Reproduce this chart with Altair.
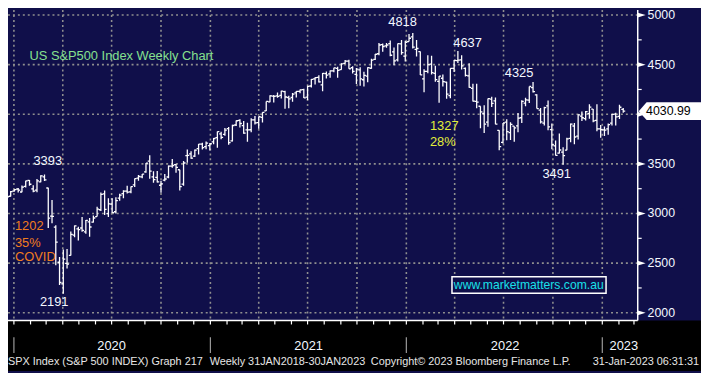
import altair as alt
import pandas as pd

# ---------------- data: S&P 500 weekly OHLC (week-ending Fridays) ----------------
week_end = pd.date_range("2019-12-06", periods=166, freq="7D").strftime("%Y-%m-%d").tolist()

open_ = [
    3143, 3141, 3174, 3227,
    3247, 3217, 3273, 3333, 3248, 3235, 3318, 3370, 3257, 2974, 2863, 2509, 2290,
    2498, 2578, 2782, 2845, 2854, 2815, 2915, 2913, 2969, 3038, 3199, 3000, 3094,
    3018, 3155, 3201, 3225, 3219, 3288, 3356, 3369, 3419, 3527, 3370, 3364, 3285,
    3337, 3368, 3477, 3493, 3441, 3296, 3583, 3600, 3579, 3654, 3699, 3675, 3684,
    3723, 3765, 3803, 3797, 3855, 3731, 3892, 3939, 3886, 3842, 3844, 3943, 3916,
    3969, 4034, 4124, 4183, 4185, 4191, 4228, 4169, 4169, 4216, 4230, 4248, 4173,
    4285, 4356, 4372, 4297, 4410, 4407, 4438, 4462, 4450, 4513, 4535, 4469, 4403,
    4448, 4348, 4385, 4464, 4553, 4610, 4701, 4690, 4712, 4628, 4548, 4710, 4587, 4733,
    4779, 4655, 4632, 4357, 4432, 4505, 4412, 4332, 4363, 4323, 4188, 4462, 4541,
    4548, 4463, 4386, 4261, 4130, 4081, 4008, 3920, 4153, 4135, 3838, 3716, 3920,
    3815, 3880, 3883, 3965, 4113, 4143, 4269, 4195, 4041, 3910, 4084, 3845, 3682,
    3609, 3619, 3638, 3758, 3882, 3779, 3982, 3956, 4006, 4052, 3939, 3853, 3843,
    3853, 3911, 4002, 3979, 4050,
]
high = [
    3150, 3183, 3226, 3248,
    3258, 3282, 3330, 3337, 3285, 3348, 3385, 3394, 3260, 3137, 2883, 2562, 2637,
    2642, 2819, 2880, 2867, 2965, 2934, 2955, 2981, 3068, 3212, 3233, 3155, 3155,
    3165, 3198, 3235, 3280, 3272, 3352, 3387, 3399, 3509, 3588, 3425, 3429, 3330,
    3397, 3483, 3550, 3502, 3441, 3529, 3646, 3628, 3645, 3700, 3712, 3726, 3711,
    3760, 3827, 3823, 3862, 3871, 3894, 3937, 3950, 3932, 3914, 3960, 3983, 3978,
    4021, 4130, 4191, 4195, 4219, 4238, 4238, 4188, 4214, 4234, 4249, 4258, 4287,
    4356, 4372, 4394, 4415, 4430, 4441, 4468, 4480, 4513, 4546, 4549, 4485, 4466,
    4475, 4429, 4475, 4559, 4608, 4718, 4714, 4718, 4744, 4672, 4713, 4748, 4741, 4808,
    4819, 4749, 4632, 4453, 4595, 4590, 4490, 4385, 4402, 4327, 4465, 4546, 4637,
    4594, 4471, 4513, 4308, 4307, 4081, 4091, 4158, 4177, 4168, 3838, 3913, 3950,
    3919, 3880, 4013, 4141, 4167, 4281, 4325, 4203, 4063, 4077, 4140, 3907, 3736,
    3806, 3668, 3763, 3906, 3912, 4001, 4028, 4034, 4101, 4052, 4101, 3891, 3878,
    3906, 4003, 4015, 4095, 4063,
]
low = [
    3070, 3123, 3172, 3223,
    3212, 3215, 3263, 3281, 3214, 3214, 3315, 3328, 2855, 2902, 2479, 2280, 2192,
    2447, 2578, 2761, 2727, 2816, 2797, 2766, 2910, 2969, 3025, 2984, 2965, 3004,
    2999, 3128, 3155, 3201, 3204, 3268, 3329, 3355, 3411, 3350, 3310, 3313, 3209,
    3324, 3355, 3462, 3410, 3233, 3279, 3512, 3552, 3570, 3594, 3645, 3648, 3636,
    3698, 3663, 3749, 3784, 3694, 3725, 3881, 3866, 3805, 3723, 3818, 3897, 3853,
    3916, 4034, 4120, 4118, 4167, 4160, 4056, 4062, 4127, 4168, 4213, 4164, 4144,
    4271, 4300, 4321, 4233, 4360, 4368, 4424, 4367, 4450, 4508, 4458, 4411, 4306,
    4288, 4279, 4323, 4460, 4546, 4596, 4630, 4670, 4585, 4495, 4531, 4600, 4531, 4733,
    4662, 4582, 4395, 4222, 4414, 4401, 4327, 4115, 4279, 4157, 4161, 4425, 4517,
    4451, 4381, 4268, 4128, 4062, 3859, 3811, 3875, 4074, 3900, 3637, 3705, 3739,
    3742, 3722, 3818, 3911, 4080, 4113, 4219, 4058, 3906, 3886, 3838, 3647, 3584,
    3604, 3492, 3638, 3718, 3698, 3745, 3932, 3938, 3956, 3919, 3828, 3764, 3781,
    3795, 3888, 3886, 3952, 4015,
]
close = [
    3146, 3169, 3221, 3240,
    3235, 3265, 3330, 3295, 3226, 3328, 3380, 3338, 2954, 2972, 2711, 2305, 2541,
    2489, 2790, 2875, 2837, 2831, 2930, 2864, 2955, 3044, 3194, 3041, 3098, 3009,
    3130, 3185, 3225, 3216, 3271, 3351, 3373, 3397, 3508, 3427, 3341, 3319, 3298,
    3348, 3477, 3484, 3465, 3270, 3509, 3585, 3558, 3638, 3699, 3663, 3709, 3703,
    3756, 3825, 3768, 3841, 3714, 3887, 3935, 3907, 3811, 3842, 3943, 3913, 3975,
    4020, 4129, 4185, 4180, 4181, 4233, 4174, 4156, 4204, 4230, 4247, 4166, 4281,
    4352, 4370, 4327, 4412, 4395, 4437, 4468, 4442, 4509, 4535, 4459, 4433, 4455,
    4357, 4391, 4471, 4545, 4605, 4698, 4683, 4698, 4595, 4538, 4712, 4621, 4726, 4766,
    4677, 4663, 4398, 4432, 4501, 4419, 4349, 4385, 4329, 4204, 4463, 4543, 4546,
    4488, 4393, 4272, 4132, 4123, 4024, 3901, 4158, 4109, 3901, 3675, 3912, 3825,
    3899, 3863, 3962, 4130, 4145, 4280, 4228, 4058, 3924, 4067, 3873, 3693, 3586,
    3640, 3583, 3753, 3901, 3771, 3993, 3965, 4026, 4072, 3934, 3852, 3845, 3840,
    3895, 3999, 3973, 4071, 4030.99,
]

# axis / grid positions
y_minor = [2250, 2750, 3250, 3750, 4250, 4750]
y_major = [2000, 2500, 3000, 3500, 4000, 4500, 5000]
y_label_values = [2000, 2500, 3000, 3500, 4500, 5000]   # 4000 is hidden behind the last-price tag
y_labels = ["2000", "2500", "3000", "3500", "4500", "5000"]
quarter_lines = ["2019-12-26", "2020-03-26", "2020-06-25", "2020-09-25", "2020-12-26",
                 "2021-03-26", "2021-06-25", "2021-09-25", "2021-12-26", "2022-03-26",
                 "2022-06-25", "2022-09-25", "2022-12-26"]
year_lines = ["2019-12-26", "2020-12-26", "2021-12-26", "2022-12-26"]
year_labels = ["2020", "2021", "2022", "2023"]
year_label_dates = ["2020-06-25", "2021-06-27", "2022-06-28", "2023-02-04"]
month_ticks = (pd.date_range("2020-01-01", "2023-03-01", freq="MS") - pd.Timedelta(days=6)).strftime("%Y-%m-%d").tolist()

# annotations
peak_text = ["3393", "2191", "4818", "4637", "4325", "3491"]
peak_date = ["2020-02-27", "2020-03-10", "2021-12-19", "2022-04-19", "2022-07-24", "2022-10-02"]
peak_value = [3525, 2109, 4932, 4717, 4414, 3398]

note_text = ["US S&P500 Index Weekly Chart", "1202", "35%", "COVID", "1327", "28%"]
note_date = ["2020-01-24", "2019-12-28", "2019-12-28", "2019-12-28", "2022-02-08", "2022-02-08"]
note_value = [4590, 2871, 2705, 2558, 3877, 3721]
note_color = ["#86e08f", "#f07d1e", "#f07d1e", "#f07d1e", "#e2ee3a", "#e2ee3a"]

footer_text = ["SPX Index (S&P 500 INDEX) Graph 217", "Weekly 31JAN2018-30JAN2023",
               "Copyright\u00a9 2023 Bloomberg Finance L.P.", "31-Jan-2023 06:31:31"]

# ---------------- styling ----------------
NAVY = "#100f4a"
WHITE = "#f4f8ff"
GRID = "#8f8f8f"
FONT = "Liberation Sans"
W, H = 637, 314
PAD_R, PAD_B = 64, 51

x_scale = alt.Scale(type="utc", nice=False,
                    domain=[alt.DateTime(year=2019, month=12, date=15, utc=True),
                            alt.DateTime(year=2023, month=3, date=2, utc=True)])
y_scale = alt.Scale(domain=[1922, 5050], nice=False, zero=False)

X = alt.X("date:T", scale=x_scale, axis=None)

def Yq(field):
    return alt.Y(field, type="quantitative", scale=y_scale, axis=None)

bars = pd.DataFrame({"date": week_end, "open": open_, "high": high, "low": low, "close": close})
one = pd.DataFrame({"a": [0]})

band = alt.Chart(one).mark_rect(color="black").encode(
    x=alt.value(0), x2=alt.value(W + PAD_R), y=alt.value(H), y2=alt.value(H + PAD_B))

h_grid = alt.Chart(pd.DataFrame({"v": y_major})).mark_rule(
    color=GRID, strokeDash=[2, 3], strokeWidth=1.6).encode(y=Yq("v"))
v_grid = alt.Chart(pd.DataFrame({"date": quarter_lines})).mark_rule(
    color=GRID, strokeDash=[2, 3], strokeWidth=1.6).encode(x=X)

site_box = alt.Chart(pd.DataFrame({"date": ["2022-03-21"], "date2": ["2023-01-02"],
                                   "v": [2363], "v2": [2197]})).mark_rect(
    fill=NAVY, stroke="white", strokeWidth=1.5).encode(
    x=X, x2="date2:T", y=Yq("v"), y2="v2:Q")
site_text = alt.Chart(pd.DataFrame({"date": ["2022-08-11"], "v": [2275],
                                    "t": ["www.marketmatters.com.au"]})).mark_text(
    font=FONT, fontSize=12.3, color="#19e0e8", align="center", baseline="middle").encode(
    x=X, y=Yq("v"), text="t:N")

base = alt.Chart(bars)
hl = base.mark_rule(color="white", strokeWidth=1.3, clip=True).encode(
    x=X, y=Yq("low"), y2="high:Q")
op = base.mark_rule(color="white", strokeWidth=1.3, xOffset=-2, x2Offset=0, clip=True).encode(
    x=X, x2="date:T", y=Yq("open"))
cl = base.mark_rule(color="white", strokeWidth=1.3, xOffset=0, x2Offset=2, clip=True).encode(
    x=X, x2="date:T", y=Yq("close"))

# bottom time axis
x_line = alt.Chart(one).mark_rule(color="white", strokeWidth=1.5).encode(
    x=alt.value(0), x2=alt.value(W), y=alt.value(H))
m_ticks = alt.Chart(pd.DataFrame({"date": month_ticks})).mark_rule(
    color="white", strokeWidth=1.2).encode(x=X, y=alt.value(H), y2=alt.value(H + 4))
separators = alt.Chart(pd.DataFrame({"date": year_lines})).mark_rule(
    color="#9a9a9a", strokeWidth=1.2).encode(x=X, y=alt.value(331), y2=alt.value(347))
years = alt.Chart(pd.DataFrame({"date": year_label_dates, "t": year_labels})).mark_text(
    font=FONT, fontSize=13, color=WHITE, align="center", baseline="middle").encode(
    x=X, y=alt.value(340), text="t:N")

# right price axis
y_line = alt.Chart(one).mark_rule(color="white", strokeWidth=1.5).encode(
    x=alt.value(W), y=alt.value(0), y2=alt.value(H))
y_minor_ticks = alt.Chart(pd.DataFrame({"v": y_minor})).mark_rule(
    color="white", strokeWidth=1.2).encode(x=alt.value(W), x2=alt.value(W + 4), y=Yq("v"))
arrows = alt.Chart(pd.DataFrame({"v": y_major})).mark_point(
    shape="M-1,-0.6L1,0L-1,0.6Z", filled=True, size=64, color="white", opacity=1).encode(
    x=alt.value(W + 4), y=Yq("v"))
y_text = alt.Chart(pd.DataFrame({"v": y_label_values, "t": y_labels})).mark_text(
    font=FONT, fontSize=12.5, color=WHITE, align="left", baseline="middle").encode(
    x=alt.value(W + 10), y=Yq("v"), text="t:N")

footer_x = [0, 204, 367, 699]
footer_align = ["left", "left", "left", "right"]
footers = [
    alt.Chart(one).mark_text(font=FONT, fontSize=11, color="#e6e6e6", align=a,
                             baseline="middle", text=t).encode(x=alt.value(px), y=alt.value(356))
    for t, px, a in zip(footer_text, footer_x, footer_align)
]

last = pd.DataFrame({"v": [close[-1]]})
tag = alt.Chart(last).mark_point(
    shape="M-0.89,0L0,-1L6.11,-1L6.11,1L0,1Z", filled=True, size=324,
    color="white", opacity=1).encode(x=alt.value(W + 9), y=Yq("v"))
tag_text = alt.Chart(last).mark_text(font=FONT, fontSize=12.5, color="black",
                                     align="center", baseline="middle").encode(
    x=alt.value(W + 31), y=Yq("v"), text=alt.Text("v:Q", format=".2f"))

peaks = alt.Chart(pd.DataFrame({"date": peak_date, "v": peak_value, "t": peak_text})).mark_text(
    font=FONT, fontSize=13, color=WHITE, align="center", baseline="middle").encode(
    x=X, y=Yq("v"), text="t:N")
notes = alt.Chart(pd.DataFrame({"date": note_date, "v": note_value, "t": note_text,
                                "c": note_color})).mark_text(
    font=FONT, fontSize=13, align="left", baseline="middle").encode(
    x=X, y=Yq("v"), text="t:N", color=alt.Color("c:N", scale=None))

chart = alt.layer(
    band, h_grid, v_grid, site_box, site_text, hl, op, cl, x_line, m_ticks,
    separators, years, y_line, y_minor_ticks, arrows, y_text, *footers,
    tag, tag_text, peaks, notes,
).properties(
    width=W, height=H,
    padding={"left": 0, "top": 0, "right": PAD_R, "bottom": PAD_B},
    autosize=alt.AutoSizeParams(type="none"),
    background=NAVY,
).configure_view(stroke=None)

chart.save("out.html", embed_options={"renderer": "svg", "actions": False})
